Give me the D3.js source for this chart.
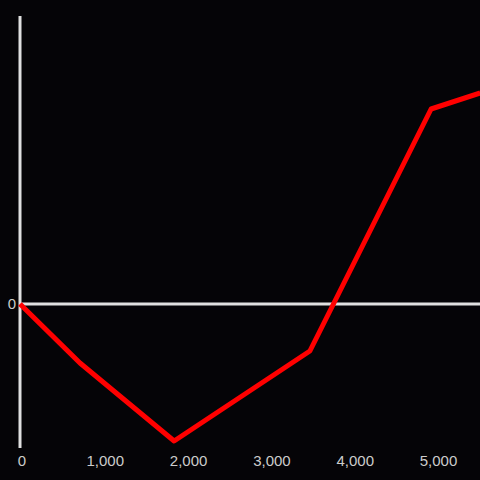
<!DOCTYPE html>
<html>
<head>
<meta charset="utf-8">
<script src="https://cdn.jsdelivr.net/npm/d3@7"></script>
<style>
    html, body { margin: 0; padding: 0; background: #050407; }
    svg { display: block; }
</style>
</head>
<body>
<svg width="480" height="480"></svg>
<script>
var xValues = [0, 720, 1850, 3480, 4935, 5525];
var yValues = [0, -59, -137, -47, 195, 211];
var xTicks = [0, 1000, 2000, 3000, 4000, 5000];
var yTicks = [0];

var svg = d3.select("svg"),
    width = +svg.attr("width"),
    height = +svg.attr("height");

var x = d3.scaleLinear()
    .domain([0, 5522])
    .range([20, 480]);

var y = d3.scaleLinear()
    .domain([-144, 288])
    .range([448, 16]);

svg.append("rect")
    .attr("width", width)
    .attr("height", height)
    .attr("fill", "#050407");

// y axis line
svg.append("line")
    .attr("x1", x(0)).attr("x2", x(0))
    .attr("y1", y.range()[1]).attr("y2", y.range()[0])
    .attr("stroke", "#e0e0e0")
    .attr("stroke-width", 3);

// zero line
svg.append("line")
    .attr("x1", x(0)).attr("x2", width)
    .attr("y1", y(0)).attr("y2", y(0))
    .attr("stroke", "#e0e0e0")
    .attr("stroke-width", 3);

// y tick labels
svg.selectAll(".ylab")
    .data(yTicks)
    .enter().append("text")
    .attr("x", 16)
    .attr("y", function (d) { return y(d); })
    .attr("dy", "0.35em")
    .attr("text-anchor", "end")
    .attr("fill", "#cccccc")
    .attr("font-family", "Liberation Sans, Arial, sans-serif")
    .attr("font-size", 15)
    .text(function (d) { return d3.format(",")(d); });

// x tick labels
svg.selectAll(".xlab")
    .data(xTicks)
    .enter().append("text")
    .attr("x", function (d) { return x(d) + 2; })
    .attr("y", 466)
    .attr("text-anchor", "middle")
    .attr("fill", "#cccccc")
    .attr("font-family", "Liberation Sans, Arial, sans-serif")
    .attr("font-size", 15)
    .text(function (d) { return d3.format(",")(d); });

// line
svg.append("path")
    .datum(d3.zip(xValues, yValues))
    .attr("fill", "none")
    .attr("stroke", "#ff0000")
    .attr("stroke-width", 5)
    .attr("stroke-linejoin", "round")
    .attr("d", d3.line()
        .x(function (d) { return x(d[0]); })
        .y(function (d) { return y(d[1]); }));
</script>
</body>
</html>
